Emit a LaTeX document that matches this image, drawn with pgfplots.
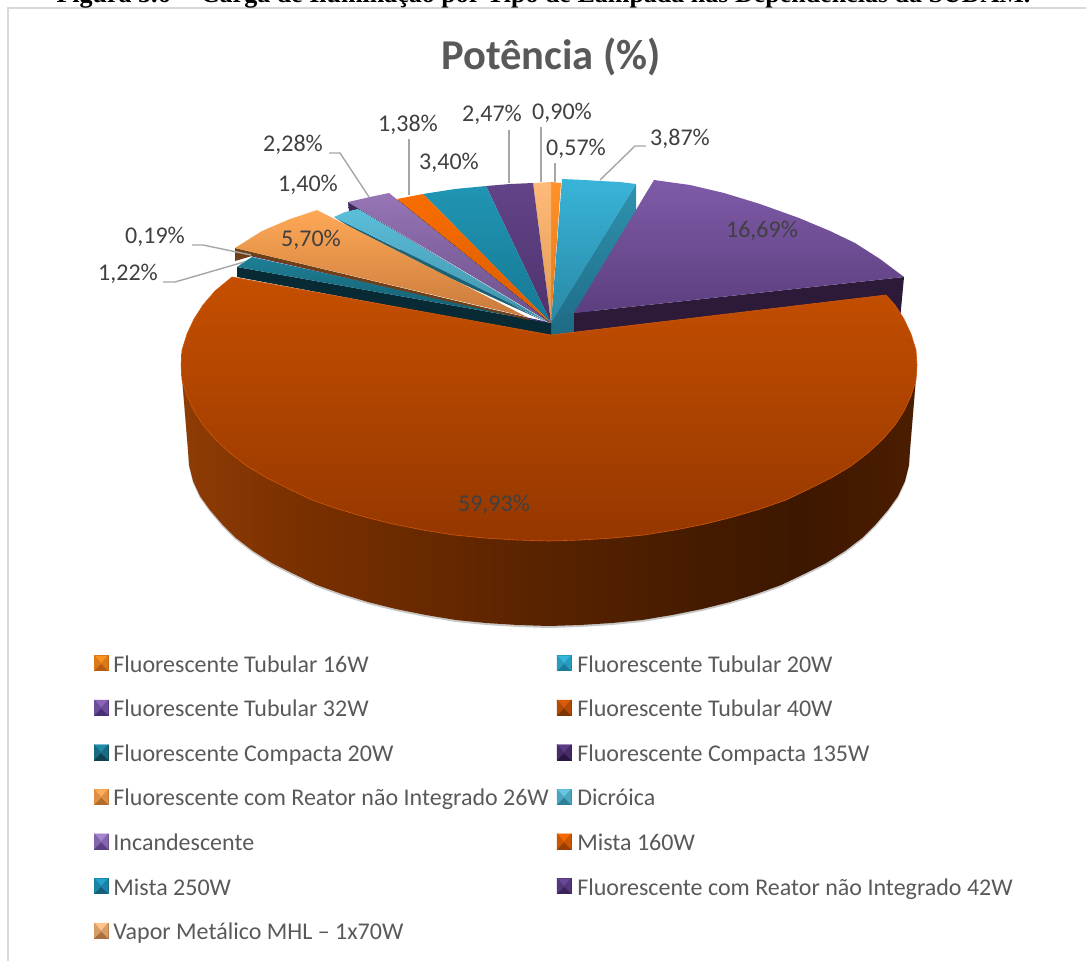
\documentclass[border=0pt]{standalone}
\usepackage{fontspec}
\setmainfont{Carlito}
\newfontfamily\capfont{Liberation Serif}
\usepackage{pgfplots}
\usepackage{pgfplotstable}
\pgfplotsset{compat=1.18}
\definecolor{sa}{HTML}{8F3C05}
\definecolor{sb}{HTML}{7A3000}
\definecolor{sc}{HTML}{5E2500}
\definecolor{sd}{HTML}{451B00}
\definecolor{se}{HTML}{3D1700}
\definecolor{sf}{HTML}{4A1C00}
\definecolor{lab}{HTML}{404040}
\definecolor{leader}{HTML}{A6A6A6}
\newcommand\dc[1]{\definecolor{#1}{HTML}{#1}}
\dc{2E93AE}\dc{1E6A84}\dc{2C1A38}\dc{38B4D8}\dc{2A88A6}\dc{7F5BA8}\dc{5C3F7F}\dc{FF9128}\dc{E27A18}\dc{FFBA7A}\dc{E09A50}
\dc{624488}\dc{4E326C}\dc{2095B4}\dc{167892}\dc{F96D00}\dc{D85C00}\dc{3E2A5A}\dc{2E1E48}\dc{9775B6}\dc{6A4F8A}\dc{1D6A80}\dc{1A5A6C}
\dc{5CBFDA}\dc{3F8FA8}\dc{082A35}\dc{1E7F96}\dc{14596B}\dc{6F3F18}\dc{FFA957}\dc{C97A3B}\dc{C54F00}\dc{953700}\dc{D2590A}\dc{4D2C7A}\dc{3E1C00}
\dc{F7931E}\dc{B85A10}\dc{33B5DC}\dc{1A7A99}\dc{8A64B8}\dc{4A2F75}\dc{D95B0A}\dc{7F3500}\dc{1F8BA6}\dc{0E4250}\dc{5E3B85}\dc{2B1842}\dc{FFAD5C}\dc{B36B2A}\dc{66C7E0}\dc{2B7F98}\dc{A583CF}\dc{5A4080}\dc{F56A00}\dc{983E00}\dc{1FA2CC}\dc{155E78}\dc{6A4898}\dc{3A2358}\dc{FFC48A}\dc{A8703E}
\pgfdeclarehorizontalshading{sideshade}{100bp}{
 color(0bp)=(sa); color(25bp)=(sa); color(33bp)=(sb); color(46.7bp)=(sc); color(60.3bp)=(sd); color(67bp)=(se); color(73.9bp)=(sf); color(100bp)=(sf)}
\pgfplotstableread{
x y
917 365
910 450
909 465
905 481
898 496
888 510
876 524
862 538
845 551
826 563
804 574
781 585
756 594
730 602
702 609
672 615
642 620
612 623
580 625
549 626
518 625
486 623
456 620
426 615
396 609
368 602
342 594
317 585
294 574
272 563
253 551
236 538
222 524
210 510
200 496
193 481
189 465
188 450
181 365
}\bigside
\pgfplotstableread{
x y
551 335
886 295
895 305
904 319
911 334
916 350
917 365
916 380
911 396
904 411
895 425
883 439
868 453
851 466
831 478
809 489
786 500
760 509
733 517
705 524
675 530
644 535
613 538
581 540
549 541
517 540
485 538
454 535
423 530
393 524
365 517
338 509
312 500
289 489
267 478
247 466
230 453
215 439
203 425
194 411
187 396
182 380
181 365
182 350
187 334
194 319
203 305
215 291
232 277
}\bigtop
\newcommand\legsq[2]{%
 \fill[#2] (0pt,-4pt) rectangle (14pt,11pt);
 \fill[#1] (0pt,11pt)--(14pt,11pt)--(7pt,3pt)--cycle;
 \fill[#1!55!#2] (0pt,11pt)--(7pt,3pt)--(0pt,-4pt)--cycle;
 \fill[#1!55!#2] (14pt,11pt)--(7pt,3pt)--(14pt,-4pt)--cycle;
}
\newcommand\lbl[3]{\node[lab,font=\fontsize{24}{28}\selectfont] at (axis cs:#1,#2) {#3};}
\pgfplotsset{w/.style 2 args={forget plot,draw=none,top color=#1,bottom color=#2}}
\begin{document}
\begin{tikzpicture}
\path[use as bounding box] (0,0) rectangle (1086pt,961pt);
\begin{axis}[
 at={(0,0)},anchor=south west,scale only axis,width=1086pt,height=961pt,
 xmin=0,xmax=1086,ymin=0,ymax=961,y dir=reverse,hide axis,clip=false,
 legend style={at={(axis cs:94,655)},anchor=north west,draw=none,fill=none,inner sep=0pt,outer sep=0pt,
  legend cell align=left,font=\fontsize{24}{28}\selectfont,text=black!65,
  nodes={inner sep=0pt,text height=17pt,text depth=6pt},
  row sep=21.6pt,/tikz/column 1/.style={column sep=5pt},/tikz/column 2/.style={column sep=8pt},/tikz/column 3/.style={column sep=6pt}},
 legend columns=2]
% frame
\addplot[forget plot,color=black!15,line width=1.5pt] coordinates {(8,961)(8,8)(1086,8)};
% cyan side, purple side
\addplot[w={2E93AE}{1E6A84}] coordinates {(636,184)(636,212)(600,300)(574,335)(551,338)(551,322)} -- cycle;
\addplot[w={2C1A38}{2C1A38}] coordinates {(574,313)(904,277)(900,320)(574,360)} -- cycle;
% cyan top, 3.87
\addplot[w={38B4D8}{2A88A6}] coordinates {(551,323)(562,179)(585,180)(600,181)(620,182)(636,184)} -- cycle;
% purple top, 16.69
\addplot[w={7F5BA8}{5C3F7F}] coordinates {(574,313)(654,180)(690,185)(724,193)(760,204)(799,218)(830,231)(855,243)(880,259)(904,277)} -- cycle;
% underlay of the fan near its apex
\addplot[w={1A5A6C}{1A5A6C}] coordinates {(551,323)(400,249)(400,254)} -- cycle;
% 0.57, 0.90
\addplot[w={FF9128}{E27A18}] coordinates {(551,323)(551,182)(561,183)} -- cycle;
\addplot[w={FFBA7A}{E09A50}] coordinates {(551,323)(533,183)(551,182)} -- cycle;
% 2.47
\addplot[w={624488}{4E326C}] coordinates {(551,323)(486,186)(510,184)(533,183)} -- cycle;
% 3.40
\addplot[w={2095B4}{167892}] coordinates {(551,323)(423,194)(455,189)(486,186)} -- cycle;
% 1.38
\addplot[forget plot,color=3E1C00,line width=1pt] coordinates {(398,200)(549,322)};
\addplot[w={F96D00}{D85C00}] coordinates {(551,323)(397,199)(423,194)} -- cycle;
% 2.28
\addplot[w={3E2A5A}{2E1E48}] coordinates {(348,202)(349,211)(360,210)(548,323)} -- cycle;
\addplot[w={9775B6}{6A4F8A}] coordinates {(549,322)(348,202)(370,197)(389,193)} -- cycle;
% 1.40
\addplot[w={1D6A80}{1A5A6C}] coordinates {(334,217)(548,323)(380,246)} -- cycle;
\addplot[w={5CBFDA}{3F8FA8}] coordinates {(548,322)(334,217)(345,212)(358,209)} -- cycle;
% 1.22 compact side, top
\addplot[w={082A35}{082A35}] coordinates {(237,267)(551,323)(551,336)(237,277)} -- cycle;
\addplot[w={1E7F96}{14596B}] coordinates {(551,323)(237,267)(244,262)(252,257)} -- cycle;
% 0.19 thin wedge
\addplot[forget plot,color=4D2C7A,line width=1pt] coordinates {(252,256)(545,322)};
\addplot[w={6F3F18}{6F3F18}] coordinates {(235,248)(528,318)(529,320)(252,256)(235,261)} -- cycle;
% 5.70
\addplot[w={FFA957}{C97A3B}] coordinates {(527,317)(235,248)(262,231)(290,219)(317,210)} -- cycle;
% 59.93 shadow, side, top
\addplot[forget plot,draw=none,fill=black,opacity=.22,yshift=-2pt] table[x=x,y=y] {\bigside} -- cycle;
\addplot[forget plot,draw=none,shading=sideshade] table[x=x,y=y] {\bigside} -- cycle;
\addplot[forget plot,draw=D2590A,line width=.6pt,top color=C54F00,bottom color=953700] table[x=x,y=y] {\bigtop} -- cycle;
% leaders
\addplot[forget plot,color=leader,line width=1.4pt] coordinates {(329,153)(340,153)(369,197)};
\addplot[forget plot,color=leader,line width=1.4pt] coordinates {(409,139)(409,195)};
\addplot[forget plot,color=leader,line width=1.4pt] coordinates {(509,130)(509,183)};
\addplot[forget plot,color=leader,line width=1.4pt] coordinates {(541,127)(541,182)};
\addplot[forget plot,color=leader,line width=1.4pt] coordinates {(555,163)(555,182)};
\addplot[forget plot,color=leader,line width=1.4pt] coordinates {(646,146)(635,146)(600,180)};
\addplot[forget plot,color=leader,line width=1.4pt] coordinates {(192,245)(203,245)(251,255)};
\addplot[forget plot,color=leader,line width=1.4pt] coordinates {(163,282)(175,282)(244,262)};
% labels
\lbl{576}{149}{0,57\%}
\lbl{562}{113}{0,90\%}
\lbl{680}{139}{3,87\%}
\lbl{492}{115}{2,47\%}
\lbl{449}{163}{3,40\%}
\lbl{408}{125}{1,38\%}
\lbl{293}{145}{2,28\%}
\lbl{308}{185}{1,40\%}
\lbl{155}{237}{0,19\%}
\lbl{128}{274}{1,22\%}
\lbl{311}{240}{5,70\%}
\lbl{762}{231}{16,69\%}
\lbl{494}{505}{59,93\%}
\node[text=black!65,font=\fontsize{42.5}{48}\selectfont\bfseries] at (axis cs:551,57) {Potência (\%)};
\node[black,anchor=base west,font=\capfont\bfseries\fontsize{26}{30}\selectfont] at (axis cs:53,2.5) {Figura 5.6 – \,Carga de Iluminação por Tipo de Lâmpada nas Dependências da SUDAM.};
% legend
\addlegendimage{legend image code/.code={\legsq{F7931E}{B85A10}}}\addlegendentry{Fluorescente Tubular 16W}
\addlegendimage{legend image code/.code={\legsq{33B5DC}{1A7A99}}}\addlegendentry{Fluorescente Tubular 20W}
\addlegendimage{legend image code/.code={\legsq{8A64B8}{4A2F75}}}\addlegendentry{Fluorescente Tubular 32W}
\addlegendimage{legend image code/.code={\legsq{D95B0A}{7F3500}}}\addlegendentry{Fluorescente Tubular 40W}
\addlegendimage{legend image code/.code={\legsq{1F8BA6}{0E4250}}}\addlegendentry{Fluorescente Compacta 20W}
\addlegendimage{legend image code/.code={\legsq{5E3B85}{2B1842}}}\addlegendentry{Fluorescente Compacta 135W}
\addlegendimage{legend image code/.code={\legsq{FFAD5C}{B36B2A}}}\addlegendentry{Fluorescente com Reator não Integrado 26W}
\addlegendimage{legend image code/.code={\legsq{66C7E0}{2B7F98}}}\addlegendentry{Dicróica}
\addlegendimage{legend image code/.code={\legsq{A583CF}{5A4080}}}\addlegendentry{Incandescente}
\addlegendimage{legend image code/.code={\legsq{F56A00}{983E00}}}\addlegendentry{Mista 160W}
\addlegendimage{legend image code/.code={\legsq{1FA2CC}{155E78}}}\addlegendentry{Mista 250W}
\addlegendimage{legend image code/.code={\legsq{6A4898}{3A2358}}}\addlegendentry{Fluorescente com Reator não Integrado 42W}
\addlegendimage{legend image code/.code={\legsq{FFC48A}{A8703E}}}\addlegendentry{Vapor Metálico MHL – 1x70W}
\end{axis}
\end{tikzpicture}
\end{document}
